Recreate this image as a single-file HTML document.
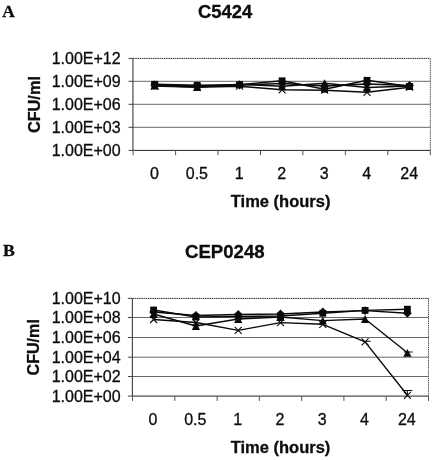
<!DOCTYPE html>
<html><head><meta charset="utf-8">
<style>
html,body{margin:0;padding:0;background:#fff;}
svg{display:block;will-change:transform;}
text{font-family:"Liberation Sans",sans-serif;fill:#0d0d0d;stroke:#0d0d0d;stroke-width:0.3px;}
.b{font-weight:bold;}
.s{font-family:"Liberation Serif",serif;font-weight:bold;}
</style></head><body>
<svg width="434" height="460" viewBox="0 0 434 460">
<rect width="434" height="460" fill="#fff"/>
<!-- Panel A -->
<text x="2.3" y="17" class="s" font-size="17.4">A</text>
<text x="225.2" y="18" class="b" font-size="18.4" text-anchor="middle">C5424</text>
<g stroke="#444" stroke-width="1" fill="none">
<line x1="133.1" y1="58.4" x2="430.3" y2="58.4" stroke="#2a2a2a" stroke-dasharray="1.5,0.7"/>
<line x1="430.3" y1="58.4" x2="430.3" y2="150.4" stroke="#555" stroke-dasharray="1.5,0.7"/>
<line x1="133.1" y1="81.3" x2="430.3" y2="81.3" stroke="#686868"/>
<line x1="133.1" y1="104.3" x2="430.3" y2="104.3" stroke="#686868"/>
<line x1="133.1" y1="127.3" x2="430.3" y2="127.3" stroke="#686868"/>
<line x1="132.95" y1="58.4" x2="132.95" y2="150.4" stroke="#2a2a2a" stroke-width="1"/>
<line x1="133.1" y1="150.4" x2="430.3" y2="150.4" stroke="#222" stroke-width="1"/>
<line x1="128.5" y1="58.4" x2="133.1" y2="58.4" stroke="#444"/>
<line x1="128.5" y1="81.3" x2="133.1" y2="81.3" stroke="#444"/>
<line x1="128.5" y1="104.3" x2="133.1" y2="104.3" stroke="#444"/>
<line x1="128.5" y1="127.3" x2="133.1" y2="127.3" stroke="#444"/>
<line x1="128.5" y1="150.4" x2="133.1" y2="150.4" stroke="#444"/>
<line x1="133.1" y1="150.4" x2="133.1" y2="155.20000000000002" stroke="#555"/>
<line x1="175.6" y1="150.4" x2="175.6" y2="155.20000000000002" stroke="#555"/>
<line x1="218.0" y1="150.4" x2="218.0" y2="155.20000000000002" stroke="#555"/>
<line x1="260.5" y1="150.4" x2="260.5" y2="155.20000000000002" stroke="#555"/>
<line x1="302.9" y1="150.4" x2="302.9" y2="155.20000000000002" stroke="#555"/>
<line x1="345.4" y1="150.4" x2="345.4" y2="155.20000000000002" stroke="#555"/>
<line x1="387.8" y1="150.4" x2="387.8" y2="155.20000000000002" stroke="#555"/>
<line x1="430.3" y1="150.4" x2="430.3" y2="155.20000000000002" stroke="#555"/>
</g>
<g font-size="16" text-anchor="end"><text x="120.6" y="64.1">1.00E+12</text><text x="120.6" y="87.0">1.00E+09</text><text x="120.6" y="110.0">1.00E+06</text><text x="120.6" y="133.0">1.00E+03</text><text x="120.6" y="156.1">1.00E+00</text></g>
<g font-size="16" text-anchor="middle"><text x="154.4" y="179">0</text><text x="196.9" y="179">0.5</text><text x="239.3" y="179">1</text><text x="281.8" y="179">2</text><text x="324.3" y="179">3</text><text x="366.7" y="179">4</text><text x="409.2" y="179">24</text></g>
<text x="280.6" y="207.2" class="b" font-size="16.5" text-anchor="middle">Time (hours)</text>
<text transform="translate(39.6,104.6) rotate(-90) scale(1,1.05)" class="b" font-size="16.3" text-anchor="middle">CFU/ml</text>
<polyline points="154.7,85.0 197.2,86.0 239.6,85.0 282.1,83.5 324.6,86.0 367.0,84.0 409.5,85.5" fill="none" stroke="#0a0a0a" stroke-width="1.4" stroke-linejoin="round"/>
<polygon points="154.7,80.6 159.1,85.0 154.7,89.4 150.3,85.0" fill="#0a0a0a"/>
<polygon points="197.2,81.6 201.6,86.0 197.2,90.4 192.8,86.0" fill="#0a0a0a"/>
<polygon points="239.6,80.6 244.0,85.0 239.6,89.4 235.2,85.0" fill="#0a0a0a"/>
<polygon points="282.1,79.1 286.5,83.5 282.1,87.9 277.7,83.5" fill="#0a0a0a"/>
<polygon points="324.6,81.6 329.0,86.0 324.6,90.4 320.2,86.0" fill="#0a0a0a"/>
<polygon points="367.0,79.6 371.4,84.0 367.0,88.4 362.6,84.0" fill="#0a0a0a"/>
<polygon points="409.5,81.1 413.9,85.5 409.5,89.9 405.1,85.5" fill="#0a0a0a"/>
<polyline points="154.7,84.3 197.2,85.3 239.6,84.6 282.1,80.8 324.6,89.3 367.0,80.3 409.5,86.5" fill="none" stroke="#0a0a0a" stroke-width="1.4" stroke-linejoin="round"/>
<rect x="151.3" y="80.9" width="6.8" height="6.8" fill="#0a0a0a"/>
<rect x="193.8" y="81.9" width="6.8" height="6.8" fill="#0a0a0a"/>
<rect x="236.2" y="81.2" width="6.8" height="6.8" fill="#0a0a0a"/>
<rect x="278.7" y="77.4" width="6.8" height="6.8" fill="#0a0a0a"/>
<rect x="321.2" y="85.9" width="6.8" height="6.8" fill="#0a0a0a"/>
<rect x="363.6" y="76.9" width="6.8" height="6.8" fill="#0a0a0a"/>
<rect x="406.1" y="83.1" width="6.8" height="6.8" fill="#0a0a0a"/>
<polyline points="154.7,85.5 197.2,87.0 239.6,84.2 282.1,86.3 324.6,83.2 367.0,87.5 409.5,86.0" fill="none" stroke="#0a0a0a" stroke-width="1.4" stroke-linejoin="round"/>
<polygon points="154.7,81.6 158.8,89.4 150.6,89.4" fill="#0a0a0a"/>
<polygon points="197.2,83.1 201.3,90.9 193.1,90.9" fill="#0a0a0a"/>
<polygon points="239.6,80.3 243.7,88.1 235.5,88.1" fill="#0a0a0a"/>
<polygon points="282.1,82.4 286.2,90.2 278.0,90.2" fill="#0a0a0a"/>
<polygon points="324.6,79.3 328.7,87.1 320.5,87.1" fill="#0a0a0a"/>
<polygon points="367.0,83.6 371.1,91.4 362.9,91.4" fill="#0a0a0a"/>
<polygon points="409.5,82.1 413.6,89.9 405.4,89.9" fill="#0a0a0a"/>
<polyline points="154.7,86.0 197.2,87.2 239.6,86.2 282.1,89.8 324.6,90.2 367.0,92.3 409.5,87.2" fill="none" stroke="#0a0a0a" stroke-width="1.4" stroke-linejoin="round"/>
<path d="M151.2,82.5 L158.2,89.5 M151.2,89.5 L158.2,82.5" stroke="#0a0a0a" stroke-width="1.1" fill="none"/>
<path d="M193.7,83.7 L200.7,90.7 M193.7,90.7 L200.7,83.7" stroke="#0a0a0a" stroke-width="1.1" fill="none"/>
<path d="M236.1,82.7 L243.1,89.7 M236.1,89.7 L243.1,82.7" stroke="#0a0a0a" stroke-width="1.1" fill="none"/>
<path d="M278.6,86.3 L285.6,93.3 M278.6,93.3 L285.6,86.3" stroke="#0a0a0a" stroke-width="1.1" fill="none"/>
<path d="M321.1,86.7 L328.1,93.7 M321.1,93.7 L328.1,86.7" stroke="#0a0a0a" stroke-width="1.1" fill="none"/>
<path d="M363.5,88.8 L370.5,95.8 M363.5,95.8 L370.5,88.8" stroke="#0a0a0a" stroke-width="1.1" fill="none"/>
<path d="M406.0,83.7 L413.0,90.7 M406.0,90.7 L413.0,83.7" stroke="#0a0a0a" stroke-width="1.1" fill="none"/>
<!-- Panel B -->
<text x="3" y="255.7" class="s" font-size="17.7">B</text>
<text x="224.8" y="257.8" class="b" font-size="18.6" text-anchor="middle">CEP0248</text>
<g stroke="#444" stroke-width="1" fill="none">
<line x1="132.5" y1="298.4" x2="428.5" y2="298.4" stroke="#2a2a2a" stroke-dasharray="1.5,0.7"/>
<line x1="428.5" y1="298.4" x2="428.5" y2="396.1" stroke="#555" stroke-dasharray="1.5,0.7"/>
<line x1="132.5" y1="317.5" x2="428.5" y2="317.5" stroke="#686868"/>
<line x1="132.5" y1="337.5" x2="428.5" y2="337.5" stroke="#686868"/>
<line x1="132.5" y1="357.2" x2="428.5" y2="357.2" stroke="#686868"/>
<line x1="132.5" y1="376.5" x2="428.5" y2="376.5" stroke="#686868"/>
<line x1="132.35" y1="298.4" x2="132.35" y2="396.1" stroke="#2a2a2a" stroke-width="1"/>
<line x1="132.5" y1="396.1" x2="428.5" y2="396.1" stroke="#222" stroke-width="1"/>
<line x1="127.9" y1="298.4" x2="132.5" y2="298.4" stroke="#444"/>
<line x1="127.9" y1="317.5" x2="132.5" y2="317.5" stroke="#444"/>
<line x1="127.9" y1="337.5" x2="132.5" y2="337.5" stroke="#444"/>
<line x1="127.9" y1="357.2" x2="132.5" y2="357.2" stroke="#444"/>
<line x1="127.9" y1="376.5" x2="132.5" y2="376.5" stroke="#444"/>
<line x1="127.9" y1="396.1" x2="132.5" y2="396.1" stroke="#444"/>
<line x1="132.5" y1="396.1" x2="132.5" y2="400.90000000000003" stroke="#555"/>
<line x1="174.8" y1="396.1" x2="174.8" y2="400.90000000000003" stroke="#555"/>
<line x1="217.1" y1="396.1" x2="217.1" y2="400.90000000000003" stroke="#555"/>
<line x1="259.4" y1="396.1" x2="259.4" y2="400.90000000000003" stroke="#555"/>
<line x1="301.6" y1="396.1" x2="301.6" y2="400.90000000000003" stroke="#555"/>
<line x1="343.9" y1="396.1" x2="343.9" y2="400.90000000000003" stroke="#555"/>
<line x1="386.2" y1="396.1" x2="386.2" y2="400.90000000000003" stroke="#555"/>
<line x1="428.5" y1="396.1" x2="428.5" y2="400.90000000000003" stroke="#555"/>
</g>
<g font-size="16" text-anchor="end"><text x="120.6" y="304.1">1.00E+10</text><text x="120.6" y="323.2">1.00E+08</text><text x="120.6" y="343.2">1.00E+06</text><text x="120.6" y="362.9">1.00E+04</text><text x="120.6" y="382.2">1.00E+02</text><text x="120.6" y="401.8">1.00E+00</text></g>
<g font-size="16" text-anchor="middle"><text x="153.0" y="424.7">0</text><text x="195.3" y="424.7">0.5</text><text x="237.6" y="424.7">1</text><text x="279.9" y="424.7">2</text><text x="322.2" y="424.7">3</text><text x="364.5" y="424.7">4</text><text x="406.8" y="424.7">24</text></g>
<text x="280.5" y="453.3" class="b" font-size="16.5" text-anchor="middle">Time (hours)</text>
<text transform="translate(39.4,347.3) rotate(-90) scale(1,1.05)" class="b" font-size="16.1" text-anchor="middle">CFU/ml</text>
<polyline points="153.6,312.0 195.9,315.5 238.2,314.5 280.5,314.0 322.8,312.0 365.1,310.6 407.4,313.3" fill="none" stroke="#0a0a0a" stroke-width="1.4" stroke-linejoin="round"/>
<polygon points="153.6,307.6 158.0,312.0 153.6,316.4 149.2,312.0" fill="#0a0a0a"/>
<polygon points="195.9,311.1 200.3,315.5 195.9,319.9 191.5,315.5" fill="#0a0a0a"/>
<polygon points="238.2,310.1 242.6,314.5 238.2,318.9 233.8,314.5" fill="#0a0a0a"/>
<polygon points="280.5,309.6 284.9,314.0 280.5,318.4 276.1,314.0" fill="#0a0a0a"/>
<polygon points="322.8,307.6 327.2,312.0 322.8,316.4 318.4,312.0" fill="#0a0a0a"/>
<polygon points="365.1,306.2 369.5,310.6 365.1,315.0 360.7,310.6" fill="#0a0a0a"/>
<polygon points="407.4,308.9 411.8,313.3 407.4,317.7 403.0,313.3" fill="#0a0a0a"/>
<polyline points="153.6,310.0 195.9,317.0 238.2,316.5 280.5,316.0 322.8,313.3 365.1,310.4 407.4,309.2" fill="none" stroke="#0a0a0a" stroke-width="1.4" stroke-linejoin="round"/>
<rect x="150.2" y="306.6" width="6.8" height="6.8" fill="#0a0a0a"/>
<rect x="192.5" y="313.6" width="6.8" height="6.8" fill="#0a0a0a"/>
<rect x="234.8" y="313.1" width="6.8" height="6.8" fill="#0a0a0a"/>
<rect x="277.1" y="312.6" width="6.8" height="6.8" fill="#0a0a0a"/>
<rect x="319.4" y="309.9" width="6.8" height="6.8" fill="#0a0a0a"/>
<rect x="361.7" y="307.0" width="6.8" height="6.8" fill="#0a0a0a"/>
<rect x="404.0" y="305.8" width="6.8" height="6.8" fill="#0a0a0a"/>
<polyline points="153.6,314.0 195.9,326.0 238.2,319.0 280.5,317.0 322.8,320.6 365.1,319.0 407.4,352.8" fill="none" stroke="#0a0a0a" stroke-width="1.4" stroke-linejoin="round"/>
<polygon points="153.6,310.1 157.7,317.9 149.5,317.9" fill="#0a0a0a"/>
<polygon points="195.9,322.1 200.0,329.9 191.8,329.9" fill="#0a0a0a"/>
<polygon points="238.2,315.1 242.3,322.9 234.1,322.9" fill="#0a0a0a"/>
<polygon points="280.5,313.1 284.6,320.9 276.4,320.9" fill="#0a0a0a"/>
<polygon points="322.8,316.7 326.9,324.5 318.7,324.5" fill="#0a0a0a"/>
<polygon points="365.1,315.1 369.2,322.9 361.0,322.9" fill="#0a0a0a"/>
<polygon points="407.4,348.9 411.5,356.7 403.3,356.7" fill="#0a0a0a"/>
<polyline points="153.6,319.5 195.9,322.5 238.2,330.4 280.5,322.6 322.8,324.3 365.1,341.9 407.4,395.3" fill="none" stroke="#0a0a0a" stroke-width="1.4" stroke-linejoin="round"/>
<path d="M150.1,316.0 L157.1,323.0 M150.1,323.0 L157.1,316.0" stroke="#0a0a0a" stroke-width="1.1" fill="none"/>
<path d="M192.4,319.0 L199.4,326.0 M192.4,326.0 L199.4,319.0" stroke="#0a0a0a" stroke-width="1.1" fill="none"/>
<path d="M234.7,326.9 L241.7,333.9 M234.7,333.9 L241.7,326.9" stroke="#0a0a0a" stroke-width="1.1" fill="none"/>
<path d="M277.0,319.1 L284.0,326.1 M277.0,326.1 L284.0,319.1" stroke="#0a0a0a" stroke-width="1.1" fill="none"/>
<path d="M319.3,320.8 L326.3,327.8 M319.3,327.8 L326.3,320.8" stroke="#0a0a0a" stroke-width="1.1" fill="none"/>
<path d="M361.6,338.4 L368.6,345.4 M361.6,345.4 L368.6,338.4" stroke="#0a0a0a" stroke-width="1.1" fill="none"/>
<path d="M403.9,391.8 L410.9,398.8 M403.9,398.8 L410.9,391.8" stroke="#0a0a0a" stroke-width="1.1" fill="none"/>
<path d="M402.4,390.5 H412.4 M407.4,390.5 V395" stroke="#0a0a0a" stroke-width="1" fill="none"/>
<path d="M365.1,341.3 H370.6" stroke="#0a0a0a" stroke-width="1" fill="none"/>
<path d="M403.9,352 H412.7" stroke="#0a0a0a" stroke-width="1" fill="none"/>
</svg>
</body></html>
